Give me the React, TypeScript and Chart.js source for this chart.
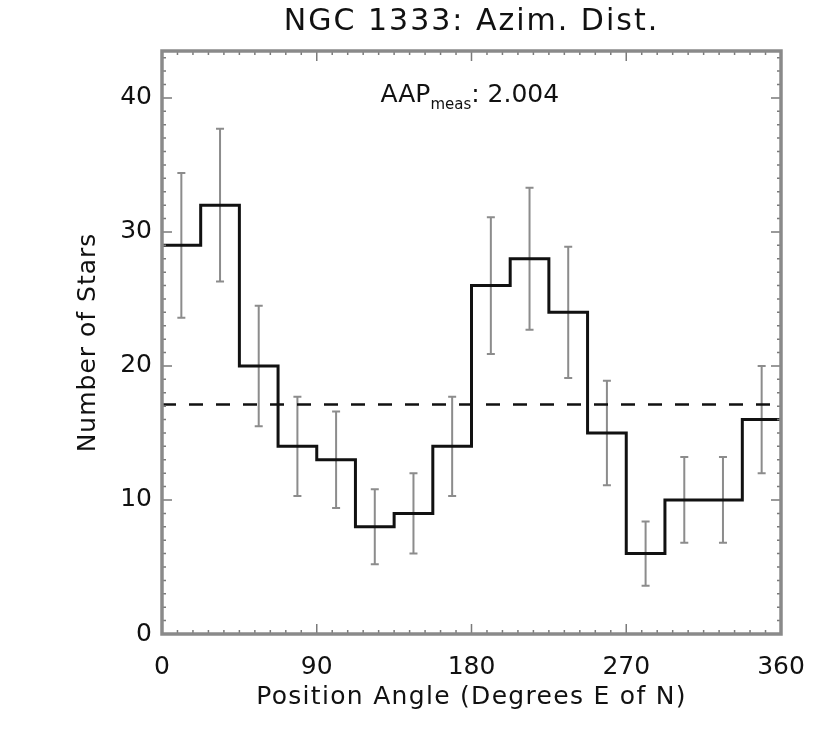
import React, { useEffect, useRef } from "react";
import { Chart, registerables } from "chart.js";

Chart.register(...registerables);

// Histogram of position angles (22.5 deg bins)
const binStarts = [0, 22.5, 45, 67.5, 90, 112.5, 135, 157.5, 180, 202.5, 225, 247.5, 270, 292.5, 315, 337.5];
const binWidth = 22.5;
const counts = [29, 32, 20, 14, 13, 8, 9, 14, 26, 28, 24, 15, 6, 10, 10, 16];
const errors = [5.4, 5.7, 4.5, 3.7, 3.6, 2.8, 3.0, 3.7, 5.1, 5.3, 4.9, 3.9, 2.4, 3.2, 3.2, 4.0];
const meanLevel = 17.125;
const xTicks = [0, 90, 180, 270, 360];
const yTicks = [0, 10, 20, 30, 40];
const titleText = "NGC 1333: Azim. Dist.";
const xTitle = "Position Angle (Degrees E of N)";
const yTitle = "Number of Stars";
const aapValue = "2.004";

const FONT = "'DejaVu Sans', sans-serif";

const frameTicks = {
  id: "frameTicks",
  afterDatasetsDraw(chart: any) {
    const { ctx, chartArea: a, scales } = chart;
    const xs = scales.x;
    const ys = scales.y;
    ctx.save();
    ctx.strokeStyle = "#7a7a7a";
    ctx.lineWidth = 1.5;
    for (let v = 0; v <= 360; v += 9) {
      const px = xs.getPixelForValue(v);
      const len = v % 90 === 0 ? 10 : 4;
      ctx.beginPath();
      ctx.moveTo(px, a.bottom);
      ctx.lineTo(px, a.bottom - len);
      ctx.moveTo(px, a.top);
      ctx.lineTo(px, a.top + len);
      ctx.stroke();
    }
    for (let v = 0; v <= 43; v += 1) {
      const py = ys.getPixelForValue(v);
      const len = v % 10 === 0 ? 10 : 4;
      ctx.beginPath();
      ctx.moveTo(a.left, py);
      ctx.lineTo(a.left + len, py);
      ctx.moveTo(a.right, py);
      ctx.lineTo(a.right - len, py);
      ctx.stroke();
    }
    ctx.lineWidth = 3.5;
    ctx.strokeStyle = "#8a8a8a";
    ctx.strokeRect(a.left, a.top, a.right - a.left, a.bottom - a.top);
    ctx.restore();
  },
};

const errorBars = {
  id: "errorBars",
  beforeDatasetsDraw(chart: any) {
    const { ctx, scales } = chart;
    const xs = scales.x;
    const ys = scales.y;
    ctx.save();
    ctx.strokeStyle = "#8c8c8c";
    ctx.lineWidth = 2;
    counts.forEach((c, i) => {
      const px = xs.getPixelForValue(binStarts[i] + binWidth / 2);
      const top = ys.getPixelForValue(c + errors[i]);
      const bot = ys.getPixelForValue(c - errors[i]);
      ctx.beginPath();
      ctx.moveTo(px, top);
      ctx.lineTo(px, bot);
      ctx.moveTo(px - 4, top);
      ctx.lineTo(px + 4, top);
      ctx.moveTo(px - 4, bot);
      ctx.lineTo(px + 4, bot);
      ctx.stroke();
    });
    ctx.restore();
  },
};

const texts = {
  id: "texts",
  afterDraw(chart: any) {
    const { ctx, chartArea: a, scales } = chart;
    const cx = (a.left + a.right) / 2;
    const cy = (a.top + a.bottom) / 2;
    ctx.save();
    ctx.fillStyle = "#111";
    ctx.textBaseline = "middle";
    ctx.textAlign = "center";
    ctx.font = `30px ${FONT}`;
    (ctx as any).letterSpacing = "2px";
    ctx.fillText(titleText, cx, 22);
    ctx.font = `25px ${FONT}`;
    (ctx as any).letterSpacing = "1.3px";
    ctx.fillText(xTitle, cx, 697);
    ctx.save();
    ctx.translate(88, cy);
    ctx.rotate(-Math.PI / 2);
    (ctx as any).letterSpacing = "1px";
    ctx.fillText(yTitle, 0, 0);
    ctx.restore();
    (ctx as any).letterSpacing = "0px";
    // AAP annotation
    const ax = scales.x.getPixelForValue(179);
    const ay = scales.y.getPixelForValue(40);
    const big = `25px ${FONT}`;
    const small = `15px ${FONT}`;
    ctx.font = big;
    const w1 = ctx.measureText("AAP").width;
    const w3 = ctx.measureText(": " + aapValue).width;
    ctx.font = small;
    const w2 = ctx.measureText("meas").width;
    const total = w1 + w2 + w3;
    const x0 = ax - total / 2;
    ctx.textAlign = "left";
    ctx.textBaseline = "alphabetic";
    ctx.font = big;
    ctx.fillText("AAP", x0, ay + 4);
    ctx.font = small;
    ctx.fillText("meas", x0 + w1, ay + 11);
    ctx.font = big;
    ctx.fillText(": " + aapValue, x0 + w1 + w2, ay + 4);
    ctx.restore();
  },
};

export default function App() {
  const ref = useRef<HTMLCanvasElement>(null);
  useEffect(() => {
    if (!ref.current) return;
    const stepPts = binStarts.map((x, i) => ({ x, y: counts[i] }));
    stepPts.push({ x: binStarts[binStarts.length - 1] + binWidth, y: counts[counts.length - 1] });
    const chart = new Chart(ref.current, {
      type: "line",
      data: {
        datasets: [
          {
            data: stepPts,
            stepped: "before",
            borderColor: "#111",
            borderWidth: 3,
            pointRadius: 0,
            fill: false,
          },
          {
            data: [
              { x: 0, y: meanLevel },
              { x: 360, y: meanLevel },
            ],
            borderColor: "#111",
            borderWidth: 2.5,
            borderDash: [14, 13],
            pointRadius: 0,
            fill: false,
          },
        ],
      },
      options: {
        animation: false,
        responsive: false,
        devicePixelRatio: 1,
        layout: { padding: { top: 51, right: 49, left: 0, bottom: 0 } },
        plugins: { legend: { display: false }, tooltip: { enabled: false }, title: { display: false } },
        scales: {
          x: {
            type: "linear",
            min: 0,
            max: 360,
            afterFit: (s: any) => {
              s.height = 104;
            },
            afterBuildTicks: (s: any) => {
              s.ticks = xTicks.map((v) => ({ value: v }));
            },
            grid: { display: false, drawTicks: false },
            border: { display: false },
            ticks: { padding: 18, color: "#111", font: { family: FONT, size: 25 }, maxRotation: 0, autoSkip: false },
          },
          y: {
            type: "linear",
            min: 0,
            max: 43.5,
            afterFit: (s: any) => {
              s.width = 162;
            },
            afterBuildTicks: (s: any) => {
              s.ticks = yTicks.map((v) => ({ value: v }));
            },
            grid: { display: false, drawTicks: false },
            border: { display: false },
            ticks: { padding: 10, color: "#111", font: { family: FONT, size: 25 }, autoSkip: false },
          },
        },
      },
      plugins: [errorBars, frameTicks, texts],
    });
    return () => chart.destroy();
  }, []);
  return (
    <div style={{ position: "absolute", left: 0, top: 0, width: 830, height: 738, background: "#fff" }}>
      <canvas ref={ref} width={830} height={738} style={{ display: "block" }} />
    </div>
  );
}
